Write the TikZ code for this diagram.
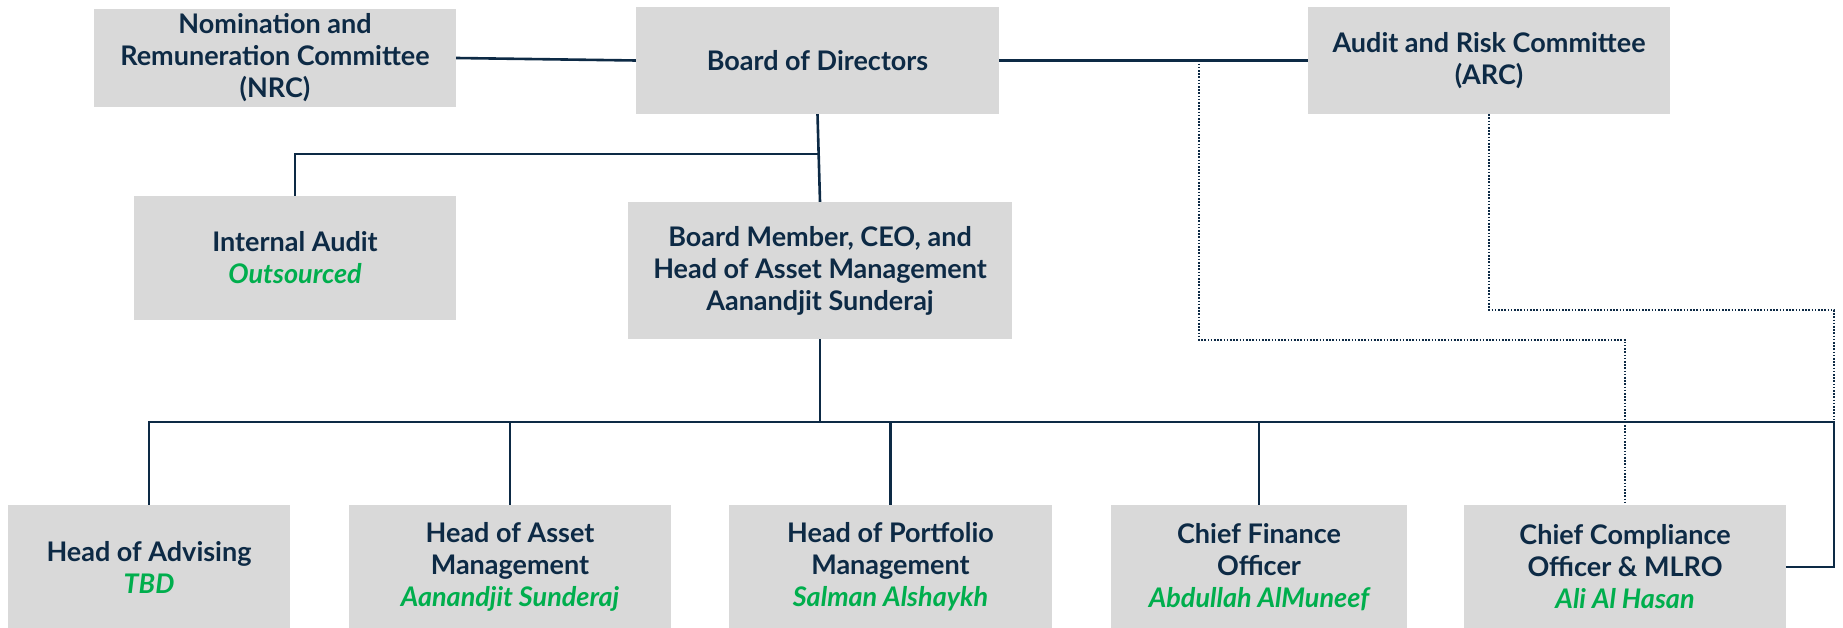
\documentclass[tikz,border=0pt]{standalone}
\usepackage{fontspec}
\setmainfont{Lato}
\usetikzlibrary{calc}
\definecolor{navy}{HTML}{0D2A45}
\definecolor{grn}{HTML}{00AE4D}
\definecolor{boxg}{HTML}{D9D9D9}
\tikzset{
  box/.style={fill=boxg, inner sep=0pt, align=center, text=navy,
    font=\fontsize{27}{32}\selectfont\bfseries},
  conn/.style={draw=navy, line width=2.6pt},
  dotline/.style={draw=navy, line width=2.2pt, dash pattern=on 1.6pt off 1.6pt},
}
\newcommand{\nm}[1]{\textcolor{grn}{\itshape #1}}
\begin{document}
\begin{tikzpicture}[x=1pt,y=-1pt]
\useasboundingbox (0,0) rectangle (1843,628);
\node[box, minimum width=362pt, minimum height=98pt] (nrc) at (275,58) {Nomination and\\Remuneration Committee\\(NRC)};
\node[box, minimum width=363pt, minimum height=107pt] (bod) at (817.5,60.5) {Board of Directors};
\node[box, minimum width=362pt, minimum height=107pt] (arc) at (1489,60.5) {Audit and Risk Committee\\(ARC)};
\node[box, minimum width=322pt, minimum height=124pt] (ia) at (295,258) {Internal Audit\\\nm{Outsourced}};
\node[box, minimum width=384pt, minimum height=137pt] (ceo) at (820,270.5) {Board Member, CEO, and\\Head of Asset Management\\Aanandjit Sunderaj};
\node[box, minimum width=282pt, minimum height=124pt] (adv) at (149,567) {Head of Advising\\\nm{TBD}};
\node[box, minimum width=322pt, minimum height=124pt] (ham) at (510,567) {Head of Asset\\Management\\\nm{Aanandjit Sunderaj}};
\node[box, minimum width=323pt, minimum height=124pt] (hpm) at (890.5,567) {Head of Portfolio\\Management\\\nm{Salman Alshaykh}};
\node[box, minimum width=296pt, minimum height=124pt] (cfo) at (1259,567) {Chief Finance\\Officer\\\nm{Abdullah AlMuneef}};
\node[box, minimum width=322pt, minimum height=124pt] (cco) at (1625,567) {Chief Compliance\\Officer \& MLRO\\\nm{Ali Al Hasan}};
\coordinate (j1) at (818,154);
\coordinate (rc) at (1834,422);
\coordinate (rcb) at (1834,567);
\coordinate (d1) at (1199,60.5);
\coordinate (d2) at (1834,310);
\draw[conn] (nrc.east) -- (bod.west);
\draw[conn] (bod.east) -- (arc.west);
\draw[conn] (bod.south) -- (ceo.north);
\draw[conn] (ia.north) |- (j1);
\draw[conn] (ceo.south) -- (ceo.south |- rc);
\draw[conn] (adv.north) |- (rc) -- (rcb) -- (cco.east);
\draw[conn] (ham.north) -- (ham.north |- rc);
\draw[conn] (hpm.north) -- (hpm.north |- rc);
\draw[conn] (cfo.north) -- (cfo.north |- rc);
\draw[dotline] (d1) |- (cco.north |- 0,340) -- (cco.north);
\draw[dotline] (arc.south) |- (d2) -- (rc);
\end{tikzpicture}
\end{document}
